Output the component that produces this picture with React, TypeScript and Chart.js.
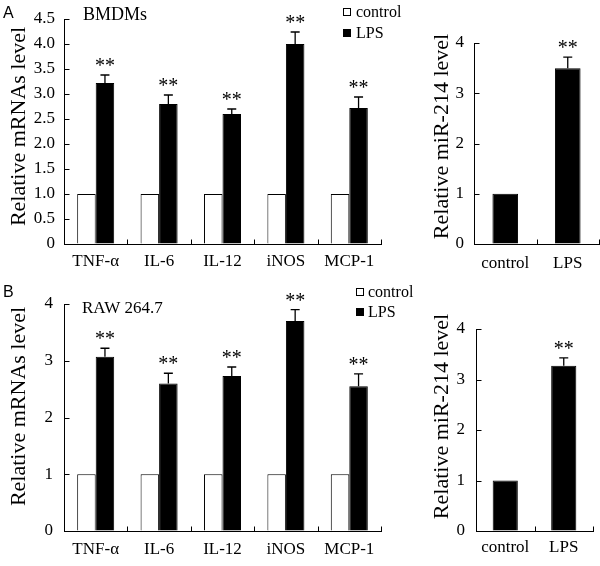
import React, { useEffect, useRef } from "react";
import { Chart, registerables } from "chart.js";

Chart.register(...registerables);

const SERIF = '"Liberation Serif", "Times New Roman", Times, serif';
const SANS = '"Liberation Sans", Arial, Helvetica, sans-serif';

// ---------- data ----------
const genes = ["TNF-α", "IL-6", "IL-12", "iNOS", "MCP-1"];
const groups = ["control", "LPS"];
const seriesNames = ["control", "LPS"];

const bmdmControl = [1, 1, 1, 1, 1];
const bmdmLps = [3.22, 2.8, 2.6, 4.0, 2.72];
const bmdmLpsErr = [0.16, 0.18, 0.1, 0.24, 0.22];
const bmdmSig = ["**", "**", "**", "**", "**"];

const rawControl = [1, 1, 1, 1, 1];
const rawLps = [3.07, 2.6, 2.73, 3.7, 2.55];
const rawLpsErr = [0.15, 0.18, 0.16, 0.2, 0.22];
const rawSig = ["**", "**", "**", "**", "**"];

const noErr = [0, 0, 0, 0, 0];
const noSig = ["", "", "", "", ""];

const mirBmdm = [1, 3.5];
const mirBmdmErr = [0, 0.22];
const mirBmdmSig = ["", "**"];

const mirRaw = [1, 3.27];
const mirRawErr = [0, 0.16];
const mirRawSig = ["", "**"];

// ---------- types ----------
type DS = { label: string; data: number[]; err: number[]; sig: string[]; fill: string | string[]; legend: boolean };
type Spec = {
  x: number; y: number; w: number; h: number;
  area: { left: number; right: number; top: number; bottom: number };
  labels: string[];
  datasets: DS[];
  max: number; step: number; decimals: number;
  catPct: number;
  yTickPad: number; xTickPad: number;
  title: string; titleX: number; titleY: number;
  letter?: { text: string; x: number; y: number };
  caption?: { text: string; x: number; y: number; size: number };
  legend?: { x: number; y: number; gap: number; dx: number };
};

const specs: Spec[] = [
  {
    x: 0, y: 0, w: 420, h: 280,
    area: { left: 64, right: 381, top: 19, bottom: 244 },
    labels: genes,
    datasets: [
      { label: seriesNames[0], data: bmdmControl, err: noErr, sig: noSig, fill: "#ffffff", legend: true },
      { label: seriesNames[1], data: bmdmLps, err: bmdmLpsErr, sig: bmdmSig, fill: "#000000", legend: true },
    ],
    max: 4.5, step: 0.5, decimals: 1, catPct: 0.584,
    yTickPad: 9, xTickPad: 7,
    title: "Relative mRNAs level", titleX: 25, titleY: 126.5,
    letter: { text: "A", x: 3, y: 18 },
    caption: { text: "BMDMs", x: 83, y: 20, size: 18 },
    legend: { x: 343, y: 17, gap: 21, dx: 13 },
  },
  {
    x: 390, y: 0, w: 210, h: 280,
    area: { left: 84, right: 209, top: 43, bottom: 244 },
    labels: groups,
    datasets: [
      { label: "miR-214", data: mirBmdm, err: mirBmdmErr, sig: mirBmdmSig, fill: ["#000000", "#000000"], legend: false },
    ],
    max: 4, step: 1, decimals: 0, catPct: 0.41,
    yTickPad: 10, xTickPad: 9,
    title: "Relative miR-214 level", titleX: 58, titleY: 136.5,
  },
  {
    x: 0, y: 280, w: 420, h: 286,
    area: { left: 64, right: 381, top: 24, bottom: 251 },
    labels: genes,
    datasets: [
      { label: seriesNames[0], data: rawControl, err: noErr, sig: noSig, fill: "#ffffff", legend: true },
      { label: seriesNames[1], data: rawLps, err: rawLpsErr, sig: rawSig, fill: "#000000", legend: true },
    ],
    max: 4, step: 1, decimals: 0, catPct: 0.584,
    yTickPad: 11, xTickPad: 8,
    title: "Relative mRNAs level", titleX: 25, titleY: 126.5,
    letter: { text: "B", x: 3, y: 17 },
    caption: { text: "RAW 264.7", x: 82, y: 33, size: 17 },
    legend: { x: 356, y: 17, gap: 20, dx: 12 },
  },
  {
    x: 390, y: 280, w: 210, h: 286,
    area: { left: 86, right: 203, top: 49, bottom: 251 },
    labels: groups,
    datasets: [
      { label: "miR-214", data: mirRaw, err: mirRawErr, sig: mirRawSig, fill: ["#000000", "#000000"], legend: false },
    ],
    max: 4, step: 1, decimals: 0, catPct: 0.43,
    yTickPad: 11, xTickPad: 6,
    title: "Relative miR-214 level", titleX: 58, titleY: 136.5,
  },
];

function decorPlugin(spec: Spec) {
  return {
    id: "decor",
    afterDraw(chart: any) {
      const ctx: CanvasRenderingContext2D = chart.ctx;
      const xs = chart.scales.x;
      const ys = chart.scales.y;
      const area = chart.chartArea;
      ctx.save();
      ctx.strokeStyle = "#000";
      ctx.fillStyle = "#000";
      ctx.lineWidth = 1;
      const axisX = Math.round(area.left) + 0.5;
      const axisY = Math.round(area.bottom) + 0.5;
      // inward y ticks
      ys.ticks.forEach((t: any) => {
        const py = Math.round(ys.getPixelForValue(t.value)) + 0.5;
        ctx.beginPath();
        ctx.moveTo(axisX, py);
        ctx.lineTo(axisX + 5, py);
        ctx.stroke();
      });
      // inward x category boundary ticks
      for (let i = 1; i <= spec.labels.length; i++) {
        const px = Math.min(Math.round(xs.getPixelForValue(i - 0.5)) + 0.5, spec.w - 0.5);
        ctx.beginPath();
        ctx.moveTo(px, axisY);
        ctx.lineTo(px, axisY - 5);
        ctx.stroke();
      }
      // error bars and significance marks
      spec.datasets.forEach((d, di) => {
        const meta = chart.getDatasetMeta(di);
        meta.data.forEach((el: any, j: number) => {
          const e = d.err[j];
          const top = ys.getPixelForValue(d.data[j] + e);
          if (e > 0) {
            ctx.lineWidth = 1.3;
            ctx.beginPath();
            ctx.moveTo(el.x, el.y);
            ctx.lineTo(el.x, top);
            ctx.moveTo(el.x - 4.5, top);
            ctx.lineTo(el.x + 4.5, top);
            ctx.stroke();
          }
          if (d.sig[j]) {
            ctx.font = `20px ${SERIF}`;
            ctx.textAlign = "center";
            ctx.textBaseline = "alphabetic";
            ctx.fillText(d.sig[j], el.x, top - 3);
          }
        });
      });
      // y-axis title
      ctx.save();
      ctx.translate(spec.titleX, spec.titleY);
      ctx.rotate(-Math.PI / 2);
      ctx.font = `22px ${SERIF}`;
      ctx.textAlign = "center";
      ctx.textBaseline = "alphabetic";
      ctx.fillText(spec.title, 0, 0);
      ctx.restore();
      // panel letter
      if (spec.letter) {
        ctx.font = `16px ${SANS}`;
        ctx.textAlign = "left";
        ctx.textBaseline = "alphabetic";
        ctx.fillText(spec.letter.text, spec.letter.x, spec.letter.y);
      }
      // caption
      if (spec.caption) {
        ctx.font = `${spec.caption.size}px ${SERIF}`;
        ctx.textAlign = "left";
        ctx.textBaseline = "alphabetic";
        ctx.fillText(spec.caption.text, spec.caption.x, spec.caption.y);
      }
      // legend
      if (spec.legend) {
        const lg = spec.legend;
        let k = 0;
        spec.datasets.forEach((d) => {
          if (!d.legend) return;
          const base = lg.y + k * lg.gap;
          const fill = Array.isArray(d.fill) ? d.fill[0] : d.fill;
          ctx.fillStyle = fill;
          ctx.fillRect(lg.x, base - 9, 8, 8);
          ctx.strokeStyle = "#000";
          ctx.lineWidth = 1;
          ctx.strokeRect(lg.x + 0.5, base - 8.5, 7, 7);
          ctx.fillStyle = "#000";
          ctx.font = `16px ${SERIF}`;
          ctx.textAlign = "left";
          ctx.textBaseline = "alphabetic";
          ctx.fillText(d.label, lg.x + lg.dx, base);
          k++;
        });
      }
      ctx.restore();
    },
  };
}

function Panel({ spec }: { spec: Spec }) {
  const ref = useRef<HTMLCanvasElement>(null);
  useEffect(() => {
    if (!ref.current) return;
    const chart = new Chart(ref.current, {
      type: "bar",
      data: {
        labels: spec.labels,
        datasets: spec.datasets.map((d) => ({
          label: d.label,
          data: d.data,
          backgroundColor: d.fill as any,
          borderColor: "#000000",
          borderWidth: 1,
          categoryPercentage: spec.catPct,
          barPercentage: 1,
        })),
      },
      options: {
        animation: false,
        responsive: false,
        maintainAspectRatio: false,
        devicePixelRatio: 1,
        layout: {
          padding: { top: spec.area.top, right: spec.w - spec.area.right, left: 0, bottom: 0 },
        },
        plugins: {
          legend: { display: false },
          tooltip: { enabled: false },
          title: { display: false },
        },
        scales: {
          x: {
            offset: true,
            grid: { display: true, drawOnChartArea: false, drawTicks: false },
            border: { display: true, color: "#000000", width: 1 },
            ticks: {
              color: "#000000",
              font: { family: SERIF, size: 17 },
              padding: spec.xTickPad,
              autoSkip: false,
              maxRotation: 0,
              minRotation: 0,
            },
            afterFit: (scale: any) => {
              scale.height = spec.h - spec.area.bottom;
              scale.paddingLeft = 0;
              scale.paddingRight = 0;
            },
          },
          y: {
            min: 0,
            max: spec.max,
            grid: { display: true, drawOnChartArea: false, drawTicks: false },
            border: { display: true, color: "#000000", width: 1 },
            ticks: {
              stepSize: spec.step,
              color: "#000000",
              font: { family: SERIF, size: 17 },
              padding: spec.yTickPad,
              callback: (v: any) => (Number(v) === 0 ? "0" : Number(v).toFixed(spec.decimals)),
            },
            afterFit: (scale: any) => {
              scale.width = spec.area.left;
              scale.paddingTop = 0;
              scale.paddingBottom = 0;
            },
          },
        },
      },
      plugins: [decorPlugin(spec)],
    } as any);
    return () => chart.destroy();
  }, [spec]);
  return (
    <canvas
      ref={ref}
      width={spec.w}
      height={spec.h}
      style={{ position: "absolute", left: spec.x, top: spec.y, width: spec.w, height: spec.h }}
    />
  );
}

export default function App() {
  return (
    <div style={{ position: "absolute", left: 0, top: 0, width: 600, height: 566, background: "#ffffff", overflow: "hidden" }}>
      {specs.map((s, i) => (
        <Panel key={i} spec={s} />
      ))}
    </div>
  );
}
